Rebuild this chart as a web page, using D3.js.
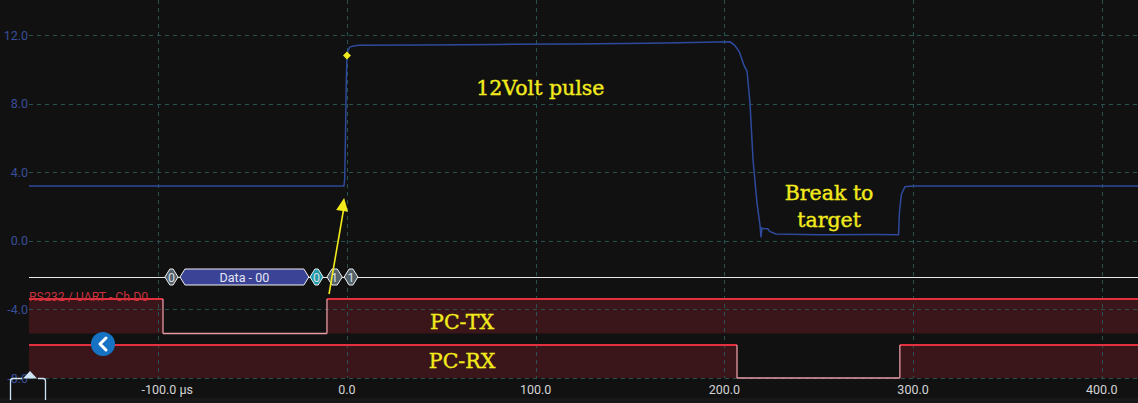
<!DOCTYPE html>
<html><head><meta charset="utf-8">
<script src="https://cdn.jsdelivr.net/npm/d3@7"></script>
<style>
html,body{margin:0;padding:0;background:#111111;}
svg{display:block;}
</style></head>
<body>
<svg id="chart" width="1138" height="403"></svg>
<script>
// ---------- DATA ----------
const xTicks = [-100, 0, 100, 200, 300, 400];
const xTickLabels = ["-100.0 µs", "0.0", "100.0", "200.0", "300.0", "400.0"];
const yTicks = [12, 8, 4, 0, -4, -8];
const yTickLabels = ["12.0", "8.0", "4.0", "0.0", "-4.0", "-8.0"];

// analog channel (time µs, volts)
const analogT = [-168.5, -1.6, -1.2, -0.8, -0.4, 0, 0.6, 1.5, 3, 6, 40, 80, 120, 160, 190, 203, 205.5, 208, 210.5, 212, 213.6, 215.2, 217.3, 218.9, 219.4, 219.9, 220.5, 223, 224, 227.3, 250, 280, 292.3, 292.8, 293.8, 295.7, 300, 350, 419.2];
const analogV = [3.2, 3.2, 3.6, 6.0, 9.0, 10.8, 11.1, 11.3, 11.35, 11.4, 11.42, 11.45, 11.48, 11.52, 11.58, 11.6, 11.4, 11.0, 10.2, 9.9, 8.0, 4.7, 2.2, 0.9, 0.2, 0.75, 0.72, 0.7, 0.55, 0.4, 0.36, 0.37, 0.35, 1.7, 2.7, 3.15, 3.2, 3.2, 3.2];
const markerT = [0];
const markerV = [10.8];

// digital channels: transitions (time µs) and levels
const channels = ["PC-TX", "PC-RX"];
const txEdges = [-168.5, -97.5, -10.6, 419.2];
const txLevels = [1, 0, 1];
const rxEdges = [-168.5, 206.7, 293, 419.2];
const rxLevels = [1, 0, 1];

// UART decoder packets (start, end, label, kind)
const pktStart = [-96.5, -88.5, -19.6, -10.6, -1.5];
const pktEnd = [-89.5, -20.2, -12.6, -2.5, 5.8];
const pktLabel = ["0", "Data - 00", "0", "1", "1"];
const pktKind = ["bit", "data", "start", "bit", "bit"];

const decoderName = "RS232 / UART - Ch D0";
const annotations = ["12Volt pulse", "Break to", "target"];

// ---------- LAYOUT ----------
const svg = d3.select("#chart");
const W = 1138, H = 403;
const plotL = 29, plotR = 1138, plotB = 378;
const x = d3.scaleLinear().domain([-168.5, 419.2]).range([plotL, plotR]);
const y = d3.scaleLinear().domain([-8, 12]).range([378, 35]);

const gridColor = "#27524f";
const traceColor = "#2f4a9c";
const redLine = "#e2303f";
const lowLine = "#e89aa4";
const bandFill = "#3a1519";
const yellow = "#f2ea1c";

svg.append("rect").attr("width", W).attr("height", H).attr("fill", "#111111");
svg.append("rect").attr("x", 0).attr("y", 398).attr("width", W).attr("height", 5).attr("fill", "#181818");

// digital lanes (pixel bands)
const lane = d3.scaleOrdinal().domain(channels).range([[299, 333.5], [345, 378]]);

function drawDigital(name, edges, levels) {
  const [hiY, loY] = lane(name);
  const g = svg.append("g");
  levels.forEach((lv, i) => {
    if (lv === 1) {
      g.append("rect").attr("x", x(edges[i])).attr("y", hiY)
        .attr("width", x(edges[i + 1]) - x(edges[i])).attr("height", loY - hiY)
        .attr("fill", bandFill);
    }
  });
  return g;
}
drawDigital("PC-TX", txEdges, txLevels);
drawDigital("PC-RX", rxEdges, rxLevels);

// grid
const grid = svg.append("g");
grid.selectAll("line.v").data(xTicks).join("line").attr("class", "v")
  .attr("x1", d => Math.round(x(d)) + 0.5).attr("x2", d => Math.round(x(d)) + 0.5)
  .attr("y1", 0).attr("y2", plotB)
  .attr("stroke", gridColor).attr("stroke-width", 1).attr("stroke-dasharray", "4,4");
grid.selectAll("line.h").data(yTicks).join("line").attr("class", "h")
  .attr("x1", plotL).attr("x2", plotR)
  .attr("y1", d => Math.round(y(d)) + 0.5).attr("y2", d => Math.round(y(d)) + 0.5)
  .attr("stroke", gridColor).attr("stroke-width", 1).attr("stroke-dasharray", "4,4");

// digital lines
function drawDigitalLines(name, edges, levels) {
  const [hiY, loY] = lane(name);
  levels.forEach((lv, i) => {
    const x0 = x(edges[i]), x1 = x(edges[i + 1]);
    svg.append("line").attr("x1", x0).attr("x2", x1)
      .attr("y1", lv ? hiY : loY).attr("y2", lv ? hiY : loY)
      .attr("stroke", lv ? redLine : lowLine).attr("stroke-width", lv ? 2 : 1.3);
    if (i > 0 && levels[i - 1] !== lv) {
      svg.append("line").attr("x1", x0).attr("x2", x0).attr("y1", hiY).attr("y2", loY)
        .attr("stroke", lowLine).attr("stroke-width", 1.3);
    }
  });
}
drawDigitalLines("PC-TX", txEdges, txLevels);
drawDigitalLines("PC-RX", rxEdges, rxLevels);

// y labels
svg.append("g").selectAll("text").data(yTicks).join("text")
  .attr("x", 28).attr("y", d => y(d) + 4.5)
  .attr("text-anchor", "end").attr("fill", "#3a4e98")
  .attr("font-family", "Roboto, sans-serif").attr("font-size", 12.5)
  .text((d, i) => yTickLabels[i]);

// x labels
svg.append("g").selectAll("text").data(xTicks).join("text")
  .attr("x", (d, i) => i === 0 ? x(d) + 9 : x(d)).attr("y", 393.5)
  .attr("text-anchor", "middle").attr("fill", "#d4d4d4")
  .attr("font-family", "Roboto, sans-serif").attr("font-size", 12.5)
  .text((d, i) => xTickLabels[i]);

// decoder line
const decY = 277;
svg.append("line").attr("x1", plotL).attr("x2", plotR).attr("y1", decY + 0.5).attr("y2", decY + 0.5)
  .attr("stroke", "#e8e8e8").attr("stroke-width", 1.2);

const kindFill = { bit: "#52606a", data: "#3a4396", start: "#1e9aa8" };
const pg = svg.append("g");
pktStart.forEach((s, i) => {
  const x0 = x(s), x1 = x(pktEnd[i]), h = 8, n = 5;
  const pts = [[x0, decY], [x0 + n, decY - h], [x1 - n, decY - h], [x1, decY], [x1 - n, decY + h], [x0 + n, decY + h]];
  pg.append("polygon").attr("points", pts.map(p => p.join(",")).join(" "))
    .attr("fill", kindFill[pktKind[i]]).attr("stroke", "#f0f0f0").attr("stroke-width", 1);
  pg.append("text").attr("x", (x0 + x1) / 2).attr("y", decY + 4.5)
    .attr("text-anchor", "middle").attr("fill", pktKind[i] === "data" ? "#e6e6f2" : "#d8dde0")
    .attr("font-family", "Roboto, sans-serif").attr("font-size", 12.5).text(pktLabel[i]);
});
svg.append("text").attr("x", plotL).attr("y", 300.5).attr("fill", "#c8303c")
  .attr("font-family", "Roboto, sans-serif").attr("font-size", 12.3).text(decoderName);

// analog trace
const line = d3.line().x(d => x(d[0])).y(d => y(d[1])).curve(d3.curveLinear);
svg.append("path").datum(analogT.map((t, i) => [t, analogV[i]]))
  .attr("d", line).attr("fill", "none").attr("stroke", traceColor).attr("stroke-width", 1.5);

// marker diamond
svg.append("g").selectAll("path").data(markerT).join("path")
  .attr("transform", (d, i) => `translate(${x(d)},${y(markerV[i])}) rotate(45)`)
  .attr("d", "M-2.8,-2.8h5.6v5.6h-5.6z").attr("fill", yellow);

// annotations
const ann = svg.append("g").attr("font-family", "'DejaVu Serif', serif").attr("fill", yellow)
  .attr("stroke", yellow).attr("stroke-width", 0.4).attr("font-size", 20.5);
ann.append("text").attr("x", x(102.5)).attr("y", y(8.5)).attr("text-anchor", "middle").text(annotations[0]);
ann.append("text").attr("x", x(255.5)).attr("y", y(2.38)).attr("text-anchor", "middle").text(annotations[1]);
ann.append("text").attr("x", x(255.5)).attr("y", y(0.8)).attr("text-anchor", "middle").text(annotations[2]);
ann.append("text").attr("x", x(61)).attr("y", 329).attr("text-anchor", "middle").text(channels[0]);
ann.append("text").attr("x", x(61)).attr("y", 368).attr("text-anchor", "middle").text(channels[1]);

// yellow arrow
const ax0 = x(-9.5), ay0 = 294, ax1 = x(-1.5), ay1 = 198;
svg.append("line").attr("x1", ax0).attr("y1", ay0).attr("x2", ax1 - 0.3).attr("y2", ay1 + 10)
  .attr("stroke", yellow).attr("stroke-width", 1.6);
const ang = Math.atan2(ay1 - ay0, ax1 - ax0);
const hl = 13, hw = 6;
const bx = ax1 - hl * Math.cos(ang), by = ay1 - hl * Math.sin(ang);
const px = -Math.sin(ang) * hw, py = Math.cos(ang) * hw;
svg.append("polygon").attr("points", `${ax1},${ay1} ${bx + px},${by + py} ${bx - px},${by - py}`).attr("fill", yellow);

// UI: blue circle button
const btn = svg.append("g").attr("transform", "translate(103,344)");
btn.append("circle").attr("r", 12).attr("fill", "#1673c4");
btn.append("path").attr("d", "M3,-6 L-3,0 L3,6").attr("fill", "none").attr("stroke", "#fff").attr("stroke-width", 3).attr("stroke-linecap", "round").attr("stroke-linejoin", "round");

// UI: bottom-left bracket widget
const wg = svg.append("g").attr("fill", "none").attr("stroke", "#cfe4f4").attr("stroke-width", 1.3);
wg.append("path").attr("d", "M10.5,400 V381 Q10.5,378.5 13,378.5 H22");
wg.append("path").attr("d", "M45.5,400 V381 Q45.5,378.5 43,378.5 H38");
svg.append("polygon").attr("points", "23,378.5 30,371 37,378.5").attr("fill", "#cfe4f4");
</script>
</body></html>
